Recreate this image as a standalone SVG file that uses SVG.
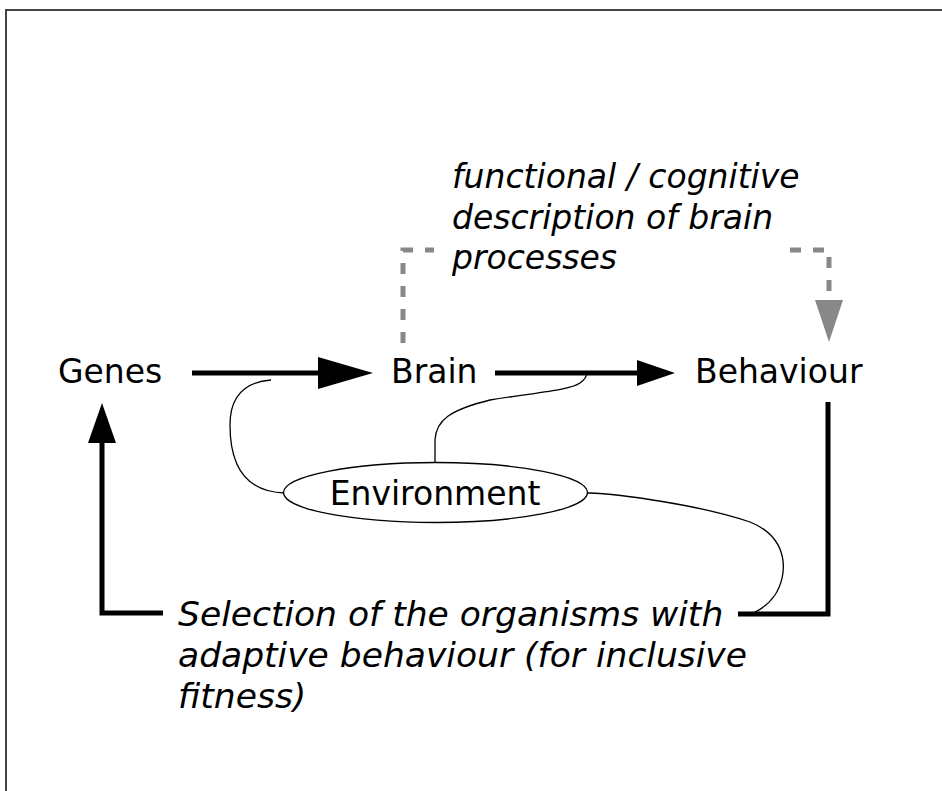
<svg xmlns="http://www.w3.org/2000/svg" width="942" height="791" viewBox="0 0 942 791">
<style>
.lbl{font-family:"DejaVu Sans","Liberation Sans",sans-serif;font-size:33px;fill:#000}
.it{font-style:italic}
.big{font-size:34.5px}
.thick{stroke:#000;stroke-width:5;fill:none}
.thin{stroke:#000;stroke-width:1.3;fill:none}
.dash{stroke:#888;stroke-width:5;fill:none;stroke-dasharray:11 12}
</style>
<rect x="0" y="0" width="942" height="791" fill="#fff"/>
<path d="M6,791 V10 H942" stroke="#444" stroke-width="2" fill="none"/>
<g id="connectors">
  <line class="thick" x1="192" y1="373" x2="322" y2="373"/>
  <polygon points="318,357 373,373 318,389" fill="#000"/>
  <line class="thick" x1="495" y1="373" x2="640" y2="373"/>
  <polygon points="637,360 675,373 637,386" fill="#000"/>
  <path class="thick" d="M828,402 V614 H738"/>
  <path class="thick" d="M163,613 H102 V440"/>
  <polygon points="102,403 116,443 88,443" fill="#000"/>
  <path class="dash" d="M403,343 V250 H434"/>
  <path class="dash" d="M829,303 V250 H790" style="stroke-dashoffset:11"/>
  <polygon points="815,300 843,300 829,342" fill="#888"/>
  <path class="thin" d="M271,380 C245,382 230,395 230,425 C230,465 245,492 285,493"/>
  <path class="thin" d="M435,463 V440 C436,420 450,410 490,400 C540,392 570,390 580,383 C586,379 587,375 587,372"/>
  <path class="thin" d="M588,493 C620,494 700,505 750,522 C790,538 788,575 775,595 C768,605 760,610 753,613"/>
</g>
<g id="genes"><text class="lbl" x="58" y="383">Genes</text></g>
<g id="brain"><text class="lbl" x="391" y="383">Brain</text></g>
<g id="behaviour"><text class="lbl" x="695" y="383">Behaviour</text></g>
<g id="environment">
  <ellipse cx="435.5" cy="492.5" rx="152" ry="30" fill="#fff" stroke="#000" stroke-width="1.3"/>
  <text class="lbl" x="435" y="505" text-anchor="middle">Environment</text>
</g>
<g id="functional">
  <text class="lbl it" x="452" y="188">functional / cognitive</text>
  <text class="lbl it" x="452" y="229">description of brain</text>
  <text class="lbl it" x="452" y="269">processes</text>
</g>
<g id="selection">
  <text class="lbl it big" x="178" y="626">Selection of the organisms with</text>
  <text class="lbl it big" x="178" y="667">adaptive behaviour (for inclusive</text>
  <text class="lbl it big" x="178" y="708">fitness)</text>
</g>
</svg>
